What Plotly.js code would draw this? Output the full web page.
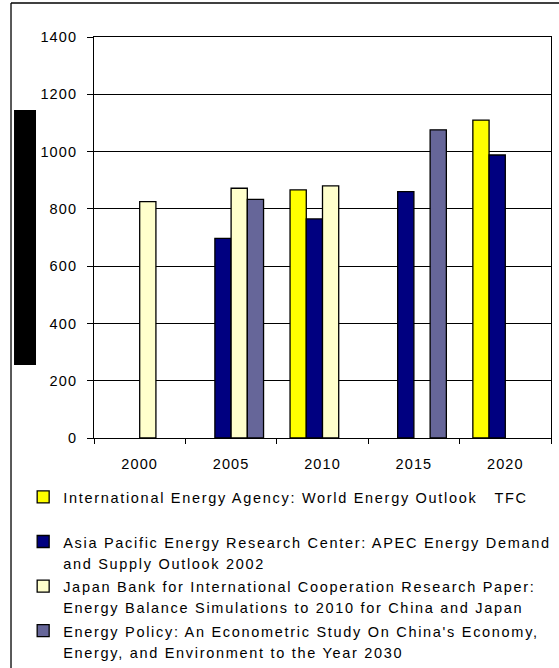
<!DOCTYPE html>
<html>
<head>
<meta charset="utf-8">
<script src="https://cdn.plot.ly/plotly-3.0.1.min.js"></script>
<style>
  html, body { margin: 0; padding: 0; background: #fff; }
  #chart { width: 559px; height: 668px; }
  .xtick text, .ytick text { letter-spacing: 1.1px; }
  .legendtext { letter-spacing: 1.7px; }
</style>
</head>
<body>
<div id="chart"></div>
<script>
// ---- data ----
const years = ["2000", "2005", "2010", "2015", "2020"];
const ieaValues   = [null, null, 866, null, 1110];
const apercValues = [null, 697, 765, 860, 988];
const jbicValues  = [825, 872, 880, null, null];
const epValues    = [null, 833, null, 1076, null];

const seriesNames = [
  "International Energy Agency: World Energy Outlook   TFC",
  "Asia Pacific Energy Research Center: APEC Energy Demand|and Supply Outlook 2002",
  "Japan Bank for International Cooperation Research Paper:|Energy Balance Simulations to 2010 for China and Japan",
  "Energy Policy: An Econometric Study On China's Economy,|Energy, and Environment to the Year 2030"
];
const seriesColors = ["#FFFF00", "#000080", "#FFFFCC", "#666699"];
const yTickValues = [0, 200, 400, 600, 800, 1000, 1200, 1400];

// ---- build ----
function legendLabel(name, extraBlank) {
  const lines = name.split("|");
  if (extraBlank) lines.push(" ");
  return lines.map(l => '<span style="font-size:14.5px">' + l + '</span>').join("<br>");
}

const allValues = [ieaValues, apercValues, jbicValues, epValues];
const traces = allValues.map((vals, i) => ({
  type: "bar",
  x: years,
  y: vals,
  name: legendLabel(seriesNames[i], i === 0),
  marker: { color: seriesColors[i], line: { color: "#000", width: 1.3 } },
  hoverinfo: "x+y"
}));

const layout = {
  width: 559,
  height: 668,
  margin: { l: 94, r: 8, t: 37, b: 230, pad: 0 },
  paper_bgcolor: "#fff",
  plot_bgcolor: "#fff",
  font: { family: "Liberation Sans, Arial, sans-serif", size: 14, color: "#000" },
  barmode: "group",
  bargap: 0.29,
  bargroupgap: 0,
  showlegend: true,
  legend: {
    xref: "paper", yref: "container",
    x: -0.155, xanchor: "left",
    y: 0.2814, yanchor: "top",
    valign: "top",
    font: { size: 16, color: "#000" },
    bgcolor: "rgba(0,0,0,0)",
    tracegroupgap: 0,
    itemclick: false
  },
  xaxis: {
    type: "category",
    categoryorder: "array",
    categoryarray: years,
    showgrid: false,
    zeroline: false,
    showline: true,
    linecolor: "#000",
    linewidth: 1,
    mirror: true,
    ticks: "outside",
    tickson: "boundaries",
    ticklen: 5,
    tickcolor: "#000",
    ticklabelstandoff: 13,
    tickfont: { size: 14.5 }
  },
  yaxis: {
    range: [0, 1400],
    tickvals: yTickValues,
    ticktext: yTickValues.map(String),
    showgrid: true,
    gridcolor: "#000",
    gridwidth: 1,
    zeroline: false,
    showline: true,
    linecolor: "#000",
    linewidth: 1,
    mirror: true,
    ticks: "outside",
    ticklen: 6,
    tickcolor: "#000",
    ticklabelstandoff: 7,
    tickfont: { size: 14.5 }
  },
  shapes: [
    // outer frame: top and left edges
    { type: "line", xref: "paper", yref: "paper", x0: -0.1816, x1: 1.02, y0: 1.0848, y1: 1.0848,
      line: { color: "#000", width: 1.3 } },
    { type: "line", xref: "paper", yref: "paper", x0: -0.1816, x1: -0.1816, y0: 1.0848, y1: -0.58,
      line: { color: "#000", width: 1.3 } },
    // black box in place of the axis title
    { type: "rect", xref: "paper", yref: "paper", x0: -0.175, x1: -0.1269, y0: 0.182, y1: 0.818,
      fillcolor: "#000", line: { width: 0 } }
  ]
};

Plotly.newPlot("chart", traces, layout, { displayModeBar: false, staticPlot: true });
</script>
</body>
</html>
